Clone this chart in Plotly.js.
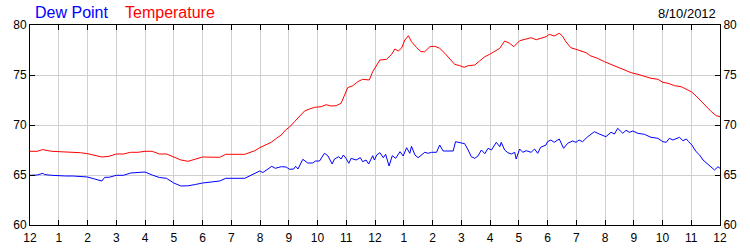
<!DOCTYPE html>
<html><head><meta charset="utf-8">
<script src="https://cdn.plot.ly/plotly-3.0.1.min.js"></script>
<style>html,body{margin:0;padding:0;background:#fff}#chart{width:750px;height:250px}</style>
</head><body><div id="chart"></div>
<script>
const tickHours = [0,1,2,3,4,5,6,7,8,9,10,11,12,13,14,15,16,17,18,19,20,21,22,23,24];
const tickLabels = ["12","1","2","3","4","5","6","7","8","9","10","11","12","1","2","3","4","5","6","7","8","9","10","11","12"];
const yTicks = [60,65,70,75,80];

const tempHours = [0,0.25,0.45,0.5,0.75,1.0,1.25,1.5,1.75,2.0,2.25,2.5,2.75,3.0,3.25,3.5,3.75,4.0,4.25,4.5,4.75,5.0,5.25,5.5,5.75,6.0,
 6.6,6.81,7.47,7.64,7.82,7.99,8.22,8.39,8.57,8.74,8.89,9.03,9.2,9.38,9.55,9.72,9.9,10.13,10.3,10.47,10.65,10.82,10.94,11.05,11.23,11.4,11.57,11.8,11.92,
 12.0,12.17,12.4,12.58,12.69,12.81,12.92,13.04,13.16,13.27,13.45,13.6,13.73,13.91,14.08,14.25,14.43,14.6,14.77,14.95,15.1,15.24,15.47,15.64,15.82,15.99,16.16,16.34,16.51,16.68,16.83,17.03,17.26,17.43,17.61,17.78,17.95,
 18.06,18.23,18.41,18.52,18.64,18.81,18.99,19.16,19.34,19.51,19.74,19.98,20.21,20.44,20.67,20.91,21.14,21.37,21.6,21.84,22.01,22.19,22.42,22.65,22.83,23.0,23.17,23.35,23.52,23.7,23.87,24.0];
const tempValues = [67.37,67.37,67.55,67.5,67.37,67.33,67.3,67.3,67.23,67.13,67.0,66.8,66.87,67.1,67.1,67.27,67.27,67.37,67.37,67.1,67.1,66.8,66.5,66.37,66.6,66.8,
 66.77,67.07,67.07,67.27,67.43,67.73,68.0,68.27,68.67,69.0,69.5,69.8,70.33,70.83,71.4,71.6,71.77,71.83,72.03,71.9,71.93,72.17,73.0,73.73,73.93,74.33,74.57,74.5,75.33,
 75.67,76.5,76.57,77.07,77.6,77.4,77.67,78.5,78.93,78.33,77.73,77.33,77.33,77.83,77.87,77.67,77.17,76.67,76.07,75.93,75.77,75.93,76.0,76.4,76.83,77.07,77.4,77.67,78.4,78.17,77.83,78.43,78.6,78.73,78.53,78.67,78.83,
 79.07,78.9,79.17,78.9,78.33,77.73,77.57,77.4,77.23,76.9,76.67,76.33,76.07,75.77,75.57,75.23,75.07,74.9,74.67,74.57,74.27,74.17,73.93,73.83,73.57,73.33,72.9,72.33,71.83,71.33,70.93,70.83];

const dewHours = [0,0.25,0.45,0.5,0.75,1.0,1.25,1.5,1.75,2.0,2.25,2.5,2.6,2.75,3.0,3.25,3.5,3.75,4.0,4.25,4.5,4.75,5.0,5.25,5.5,5.75,6.0,
 6.6,6.81,7.47,7.64,7.82,7.99,8.1,8.22,8.41,8.53,8.74,8.91,9.03,9.17,9.24,9.32,9.49,9.66,9.83,9.93,10.07,10.24,10.36,10.51,10.59,10.74,10.82,10.9,10.99,11.09,11.17,11.34,11.49,11.57,11.69,11.78,11.92,11.98,
 12.06,12.17,12.29,12.37,12.49,12.6,12.72,12.87,12.98,13.1,13.21,13.27,13.39,13.5,13.62,13.73,13.85,13.97,14.14,14.25,14.37,14.54,14.72,14.8,14.95,15.12,15.24,15.35,15.47,15.58,15.7,15.82,15.93,16.05,16.22,16.34,16.39,16.51,16.62,16.74,16.86,16.91,17.03,17.14,17.26,17.43,17.55,17.66,17.76,17.95,
 18.0,18.12,18.23,18.41,18.56,18.7,18.87,18.99,19.1,19.22,19.4,19.63,19.8,20.03,20.21,20.33,20.44,20.62,20.73,20.85,20.97,21.14,21.37,21.6,21.84,22.01,22.13,22.24,22.36,22.48,22.59,22.71,22.83,22.91,23.02,23.17,23.29,23.41,23.58,23.7,23.81,23.93,24.0];
const dewValues = [64.97,65.0,65.17,65.05,64.97,64.9,64.9,64.9,64.83,64.8,64.6,64.4,64.77,64.77,64.97,64.97,65.2,65.25,65.3,65.0,64.75,64.67,64.2,63.9,63.92,64.05,64.2,
 64.4,64.67,64.67,64.9,65.1,65.4,65.25,65.5,65.87,65.67,65.83,65.8,65.57,65.6,65.87,65.6,66.57,66.2,66.2,66.4,66.4,67.17,66.93,66.1,66.6,66.83,66.6,67.0,66.67,66.17,66.67,66.5,66.73,66.33,66.5,66.1,66.93,66.5,
 67.0,67.23,66.73,67.07,65.9,66.93,66.67,67.33,66.9,67.73,67.17,67.87,67.0,66.73,67.0,67.27,67.17,67.27,67.27,68.0,67.4,67.4,67.4,68.33,68.27,68.13,67.5,66.83,66.67,66.9,67.5,67.13,67.67,67.5,68.27,67.83,68.27,67.5,67.23,67.1,67.27,66.6,67.6,67.27,67.43,67.27,67.6,67.17,67.77,68.0,
 68.33,68.5,68.27,68.6,67.67,68.17,68.4,68.27,68.5,68.33,68.83,69.33,69.1,68.83,69.27,69.1,69.67,69.17,69.47,69.27,69.4,69.17,69.07,68.77,68.67,68.33,68.27,68.67,68.5,68.67,68.77,68.43,68.6,68.33,68.0,67.33,67.0,66.5,66.07,65.83,65.5,65.83,65.67];

const FONT = '"Liberation Sans", Arial, sans-serif';
const traces = [
  {x: tempHours, y: tempValues, type: 'scatter', mode: 'lines', line: {color: '#ff0000', width: 1}, hoverinfo: 'skip', showlegend: false},
  {x: dewHours, y: dewValues, type: 'scatter', mode: 'lines', line: {color: '#0000ff', width: 1}, hoverinfo: 'skip', showlegend: false}
];
const axisY = {
  range: [60, 80], tickvals: yTicks, ticks: 'inside', ticklen: 5, tickcolor: '#000',
  showline: true, linecolor: '#000', linewidth: 1, zeroline: false,
  tickfont: {family: FONT, size: 12, color: '#000'}, fixedrange: true
};
const layout = {
  width: 750, height: 250,
  margin: {l: 30, r: 30, t: 25, b: 25, pad: 0},
  paper_bgcolor: '#fff', plot_bgcolor: '#fff',
  xaxis: {
    range: [0, 24], tickvals: tickHours, ticktext: tickLabels, ticks: 'inside', ticklen: 5, tickcolor: '#000',
    showline: true, mirror: 'ticks', linecolor: '#000', linewidth: 1, zeroline: false,
    showgrid: true, gridcolor: '#d0d0d0', gridwidth: 1, ticklabelstandoff: 2,
    tickfont: {family: FONT, size: 12, color: '#000'}, fixedrange: true
  },
  yaxis: Object.assign({}, axisY, {showgrid: true, gridcolor: '#d0d0d0', gridwidth: 1, side: 'left'}),
  yaxis2: Object.assign({}, axisY, {showgrid: false, overlaying: 'y', side: 'right'}),
  annotations: [
    {text: 'Dew Point', xref: 'paper', yref: 'paper', x: 0.004, y: 1, xanchor: 'left', yanchor: 'bottom', yshift: 2, showarrow: false, font: {family: FONT, size: 16, color: '#0000ff'}},
    {text: 'Temperature', xref: 'paper', yref: 'paper', x: 0.135, y: 1, xanchor: 'left', yanchor: 'bottom', yshift: 2, showarrow: false, font: {family: FONT, size: 16, color: '#ff0000'}},
    {text: '8/10/2012', xref: 'paper', yref: 'paper', x: 0.997, y: 1, xanchor: 'right', yanchor: 'bottom', yshift: 2, showarrow: false, font: {family: FONT, size: 13, color: '#000'}}
  ]
};
traces.push({x: [null], y: [null], yaxis: 'y2', type: 'scatter', mode: 'lines', hoverinfo: 'skip', showlegend: false});
Plotly.newPlot('chart', traces, layout, {displayModeBar: false, staticPlot: true});
</script></body></html>
